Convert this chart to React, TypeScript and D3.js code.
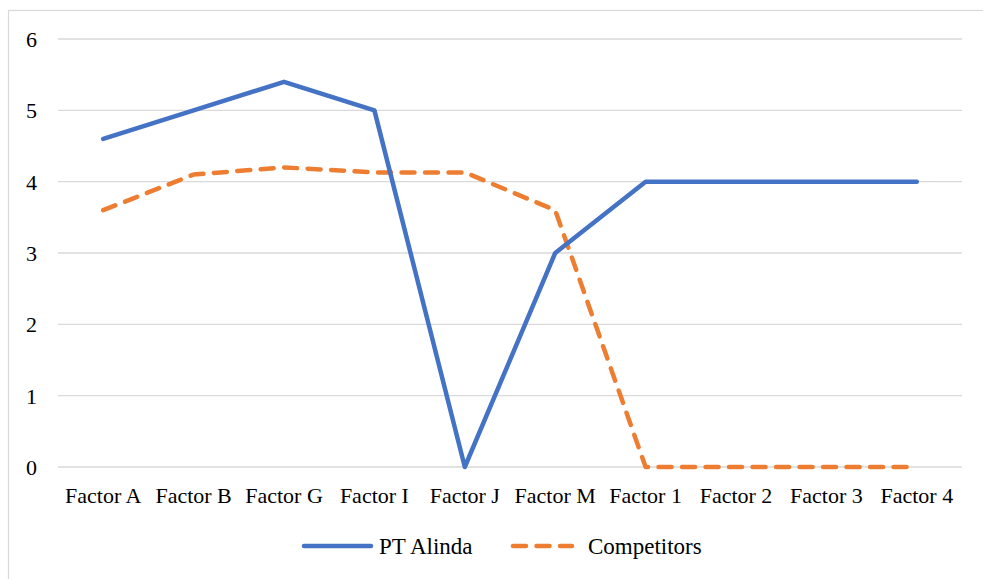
import React from 'react';
import * as d3 from 'd3';

const categories = ['Factor A', 'Factor B', 'Factor G', 'Factor I', 'Factor J', 'Factor M', 'Factor 1', 'Factor 2', 'Factor 3', 'Factor 4'];
const ptAlinda = [4.6, 5.0, 5.4, 5.0, 0, 3.0, 4, 4, 4, 4];
const competitors = [3.6, 4.1, 4.2, 4.13, 4.13, 3.6, 0, 0, 0, 0];
const yTicks = [0, 1, 2, 3, 4, 5, 6];

const W = 983;
const H = 579;
const FONT = "'Liberation Serif', 'Times New Roman', serif";
const BLUE = '#4472c4';
const ORANGE = '#ed7d31';
const margins = { top: 39, bottom: 112, left: 58, right: 21 };

const x = d3.scaleBand<string>()
  .domain(categories)
  .range([margins.left, W - margins.right]);
const y = d3.scaleLinear()
  .domain([0, 6])
  .range([H - margins.bottom, margins.top]);

const line = d3.line<number>()
  .x((_, i) => (x(categories[i]) as number) + x.bandwidth() / 2)
  .y(d => y(d));

export default function App() {
  return (
    <svg width={W} height={H}
      style={{ position: 'absolute', left: 0, top: 0, background: '#fff', fontFamily: FONT }}>
      {/* chart frame */}
      <rect x={8.5} y={10.5} width={W + 20} height={H + 20}
        fill="#fff" stroke="#d9d9d9" strokeWidth={1.2} />

      {/* gridlines */}
      {yTicks.map(t => (
        <line key={'g' + t} x1={margins.left} x2={W - margins.right}
          y1={y(t)} y2={y(t)} stroke="#d9d9d9" strokeWidth={1.3} />
      ))}

      {/* y labels */}
      {yTicks.map(t => (
        <text key={'y' + t} x={37} y={y(t) + 8} textAnchor="end"
          fontFamily={FONT} fontSize={22} fill="#000">{t}</text>
      ))}

      {/* x labels */}
      {categories.map(c => (
        <text key={c} x={(x(c) as number) + x.bandwidth() / 2} y={503} textAnchor="middle"
          fontFamily={FONT} fontSize={22} fill="#000">{c}</text>
      ))}

      <path d={line(competitors) || ''} fill="none" stroke={ORANGE} strokeWidth={4.5}
        strokeLinecap="round" strokeLinejoin="round" strokeDasharray="13 10.5" />
      <path d={line(ptAlinda) || ''} fill="none" stroke={BLUE} strokeWidth={4.5}
        strokeLinecap="round" strokeLinejoin="round" />

      {/* legend */}
      <line x1={304} x2={371} y1={546} y2={546} stroke={BLUE} strokeWidth={4.5} strokeLinecap="round" />
      <text x={379} y={554} fontFamily={FONT} fontSize={23} fill="#000">PT Alinda</text>
      <line x1={513} x2={572} y1={546} y2={546} stroke={ORANGE} strokeWidth={4.5}
        strokeLinecap="round" strokeDasharray="13 10.5" />
      <text x={588} y={554} fontFamily={FONT} fontSize={23} fill="#000">Competitors</text>
    </svg>
  );
}
